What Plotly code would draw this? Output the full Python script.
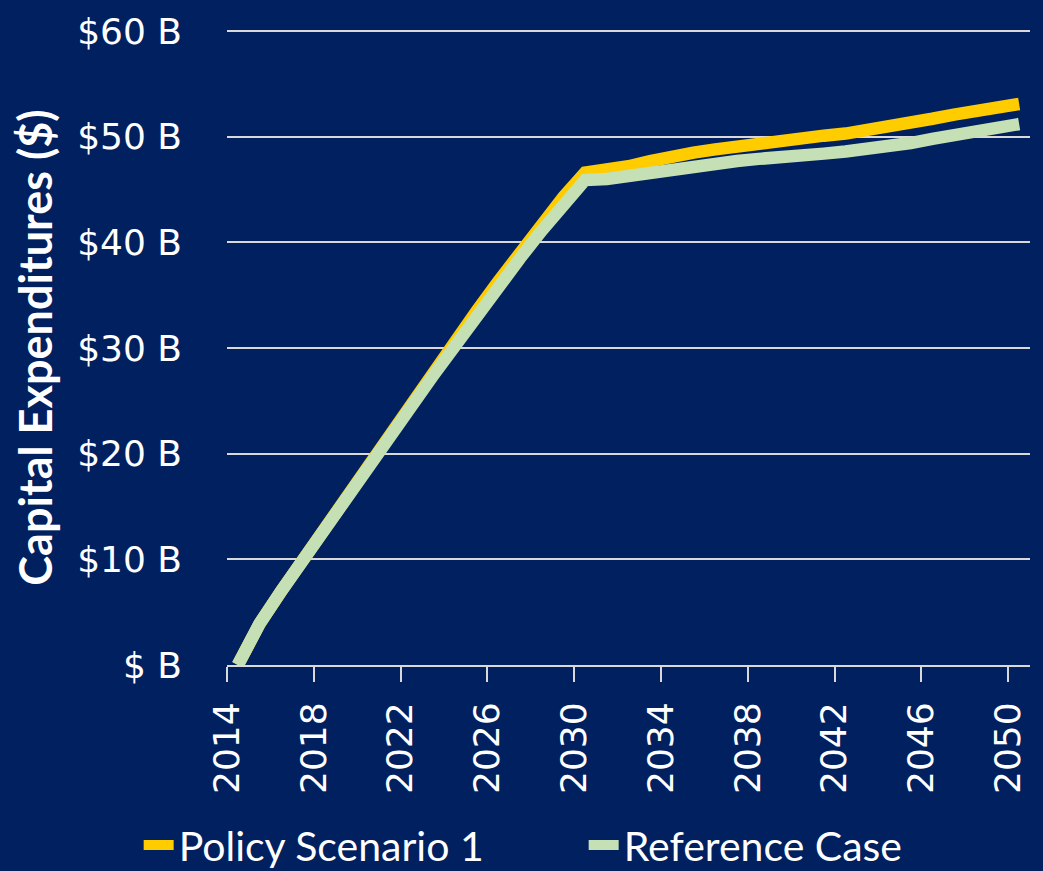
import plotly.graph_objects as go

years = list(range(2014, 2051))
policy_scenario_1 = [0.0, 3.9, 7.0, 10.0, 13.0, 16.0, 18.8, 21.7, 24.6, 27.6, 30.6, 33.5, 36.3, 39.1, 41.8, 44.3, 46.6,
                     46.8, 47.2, 47.7, 48.2, 48.5, 48.8, 49.1, 49.3, 49.6, 49.8, 50.1, 50.3, 50.6, 50.9, 51.3, 51.7,
                     52.1, 52.5, 52.8, 53.1]
reference_case = [0.0, 3.9, 7.0, 10.0, 13.0, 16.0, 18.7, 21.6, 24.5, 27.4, 30.3, 33.1, 35.8, 38.5, 41.1, 43.6, 45.9,
                  46.0, 46.3, 46.7, 47.0, 47.3, 47.5, 47.7, 47.9, 48.0, 48.2, 48.4, 48.6, 48.8, 49.1, 49.4, 49.8,
                  50.2, 50.6, 50.9, 51.2]
x_tick_labels = ["2014", "2018", "2022", "2026", "2030", "2034", "2038", "2042", "2046", "2050"]
y_tick_values = [0, 10, 20, 30, 40, 50, 60]
y_tick_labels = ["$ B", "$10 B", "$20 B", "$30 B", "$40 B", "$50 B", "$60 B"]

BG = "#002060"
GRID = "#D9D9D9"

fig = go.Figure()
fig.add_trace(go.Scatter(x=years, y=policy_scenario_1, mode="lines", name="Policy Scenario 1",
                         line=dict(color="#FFCC00", width=12.5)))
fig.add_trace(go.Scatter(x=years, y=reference_case, mode="lines", name="Reference Case",
                         line=dict(color="#C5E0B4", width=12.5)))

fig.update_layout(
    width=1043, height=871,
    paper_bgcolor=BG, plot_bgcolor=BG,
    margin=dict(l=227, r=13, t=30, b=206, autoexpand=False),
    font=dict(family="DejaVu Sans", color="white", size=36),
    showlegend=True,
    legend=dict(orientation="h", x=-0.11, xanchor="left", y=-0.284, yanchor="middle",
                font=dict(family="Lato", size=41, color="white"),
                bgcolor="rgba(0,0,0,0)", entrywidth=400, entrywidthmode="pixels", tracegroupgap=0),
)
fig.update_xaxes(
    range=[2013.5, 2050.5],
    tickmode="array",
    tickvals=[int(t) - 0.5 for t in x_tick_labels],
    ticktext=x_tick_labels,
    tickangle=-90,
    ticks="outside", ticklen=15, tickwidth=2, tickcolor=GRID,
    showline=True, linecolor=GRID, linewidth=2,
    showgrid=False, zeroline=False, automargin=False,
    tickfont=dict(family="DejaVu Sans", size=36, color="white"),
    ticklabelstandoff=6,
)
fig.update_yaxes(
    range=[0, 60.1],
    tickmode="array",
    tickvals=y_tick_values,
    ticktext=y_tick_labels,
    showgrid=True, gridcolor=GRID, gridwidth=2,
    zeroline=False, showline=False, ticks="", automargin=False,
    tickfont=dict(family="DejaVu Sans", size=36, color="white"),
    ticklabelstandoff=44,
    title=dict(text="<b>Capital Expenditures ($)</b>", standoff=10,
               font=dict(family="Lato", size=45, color="white")),
)

fig.write_html("out.html",
               config={"displayModeBar": False},
               post_script="document.body.style.margin='0';document.body.style.padding='0';"
                           "document.body.style.background='#002060';document.body.style.overflow='hidden';")
